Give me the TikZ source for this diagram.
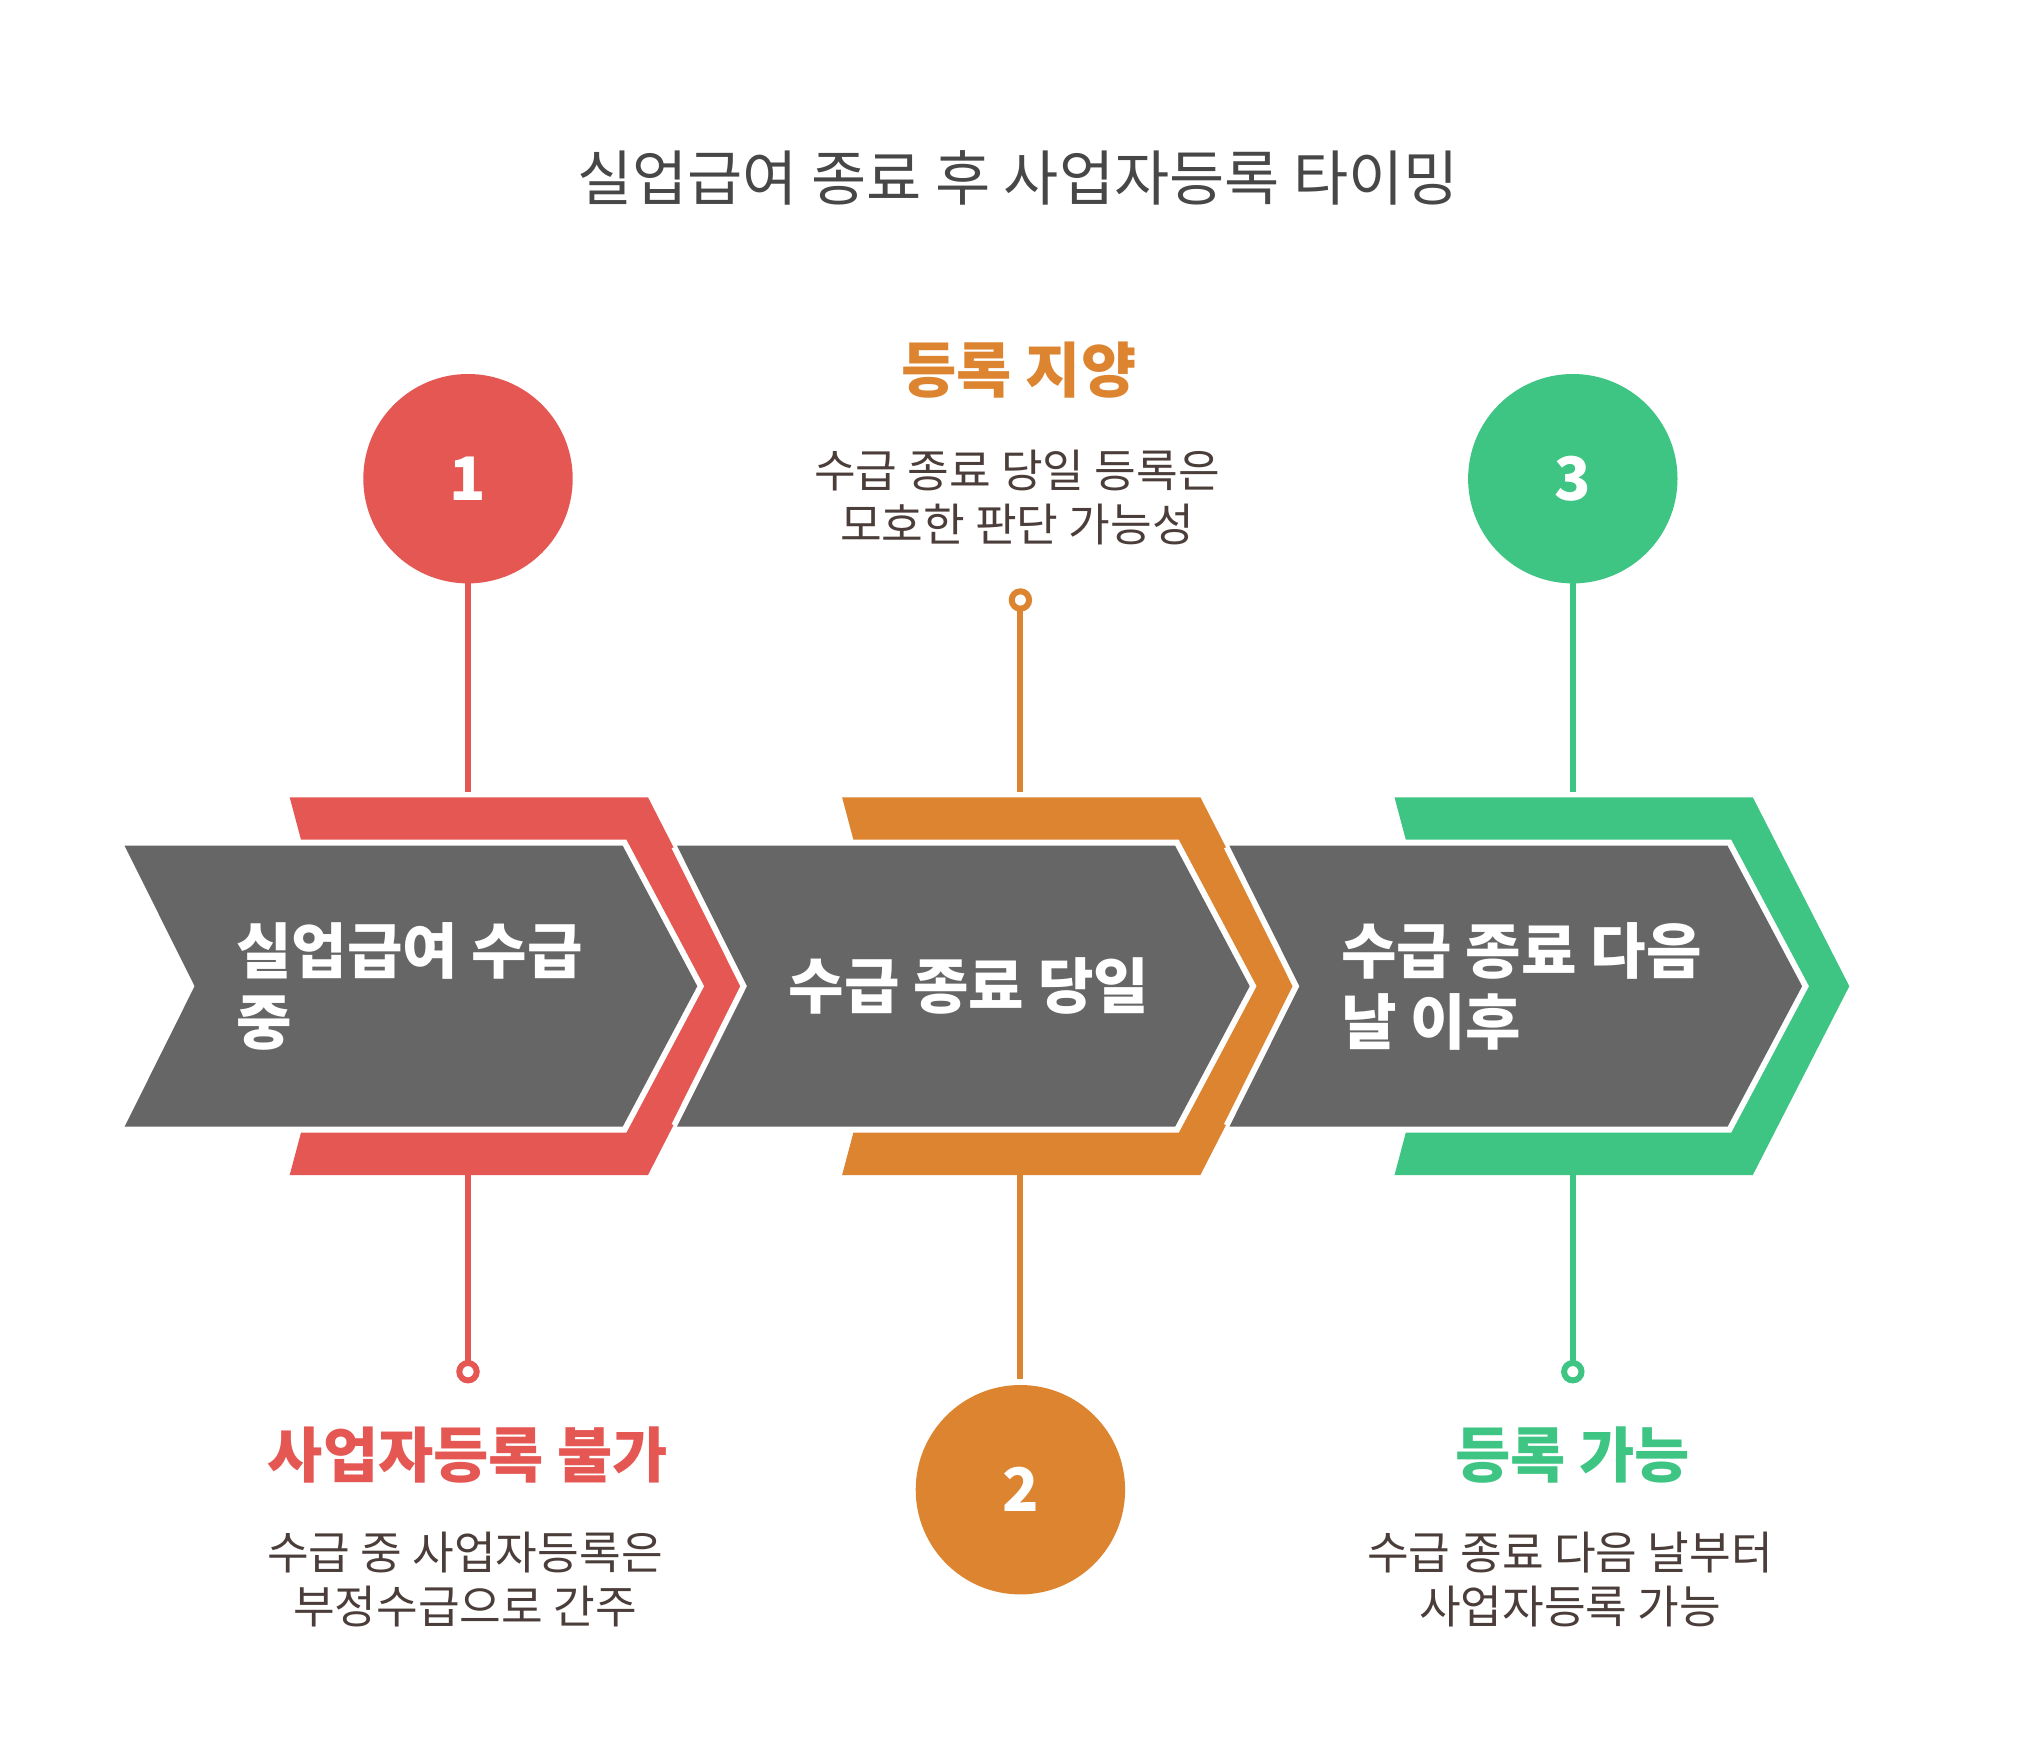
\documentclass[tikz,border=0pt]{standalone}
\usepackage{fontspec}
\setmainfont{Noto Sans CJK KR}
\usepackage{xcolor}
\usepackage{tikz}
\usetikzlibrary{calc,positioning}
\definecolor{tlred}{HTML}{E55753}
\definecolor{tlorange}{HTML}{DD8431}
\definecolor{tlgreen}{HTML}{3EC584}
\definecolor{tlgray}{HTML}{666666}
\definecolor{tltitle}{HTML}{474747}
\definecolor{tldesc}{HTML}{4B3E3A}
\tikzset{
 tl halo/.style={draw=white,line width=12pt,line join=miter},
 tl badge/.style={circle,fill=#1,minimum size=209.4pt,inner sep=0pt,outer sep=0pt,
                  text=white,font=\fontsize{60}{60}\selectfont\bfseries},
 tl dot/.style={circle,draw=#1,fill=white,line width=6pt,minimum size=17.4pt,
                inner sep=0pt,outer sep=0pt},
 tl stem/.style={draw=#1,line width=6pt},
 tl label/.style={text=white,align=left,anchor=west,inner sep=0pt,
                  font=\fontsize{60.3}{71}\selectfont\bfseries},
 tl head/.style={text=#1,inner sep=0pt,font=\fontsize{60}{70}\selectfont\bfseries},
 tl desc/.style={text=tldesc,align=center,inner sep=0pt,font=\fontsize{45.3}{54}\selectfont},
 tl title/.style={text=tltitle,inner sep=0pt,font=\fontsize{60}{70}\selectfont}
}
\begin{document}
\begin{tikzpicture}[x=1pt,y=-1pt]
 \fill[white] (0,0) rectangle (2037,1743);
 \useasboundingbox (0,0) rectangle (2037,1743);
 \node[tl title] (title) at (1018,178) {실업급여 종료 후 사업자등록 타이밍};

 \foreach \dx/\col in {0/tlred,552.4/tlorange,1104.8/tlgreen}
   \fill[\col] ({289.7+\dx},797.3) -- ({648+\dx},797.3) -- ({744.5+\dx},986.2)
     -- ({648+\dx},1175) -- ({289.7+\dx},1175) -- ({340+\dx},986.2) -- cycle;
 \foreach \dx in {0,552.4,1104.8}{
   \draw[tl halo] ({124.6+\dx},845.7) -- ({622.7+\dx},845.7) -- ({697.3+\dx},986.2)
     -- ({622.7+\dx},1126.7) -- ({124.6+\dx},1126.7);
   \draw[tl halo] ({124.6+\dx},845.7) -- ({194.6+\dx},986.2) -- ({124.6+\dx},1126.7);
   \fill[tlgray] ({124.6+\dx},845.7) -- ({622.7+\dx},845.7) -- ({697.3+\dx},986.2)
     -- ({622.7+\dx},1126.7) -- ({124.6+\dx},1126.7) -- ({194.6+\dx},986.2) -- cycle;
 }
 \foreach \k/\dx in {1/0,2/552.4,3/1104.8}{
   \coordinate (s\k-top) at ({468+\dx},797.3);
   \coordinate (s\k-bot) at ({468+\dx},1175);
 }

 \node[tl label] (t1) at (236,986.2) {실업급여 수급\\중};
 \node[tl label] (t2) at (788.4,986.2) {수급 종료 당일};
 \node[tl label] (t3) at (1340.8,986.2) {수급 종료 다음\\날 이후};

 \node[tl badge=tlred] (c1) at (468,478.7) {1};
 \node[tl badge=tlorange] (c2) at (1020.4,1489.7) {2};
 \node[tl badge=tlgreen] (c3) at (1572.8,478.7) {3};
 \node[tl dot=tlred] (d1) at (468,1371.7) {};
 \node[tl dot=tlorange] (d2) at (1020.4,600) {};
 \node[tl dot=tlgreen] (d3) at (1572.8,1371.7) {};

 \draw[tl stem=tlred,shorten >=5.6pt] (c1) -- (s1-top);
 \draw[tl stem=tlred] (s1-bot) -- (d1);
 \draw[tl stem=tlorange,shorten >=5.6pt] (d2) -- (s2-top);
 \draw[tl stem=tlorange,shorten >=6pt] (s2-bot) -- (c2);
 \draw[tl stem=tlgreen,shorten >=5.6pt] (c3) -- (s3-top);
 \draw[tl stem=tlgreen] (s3-bot) -- (d3);

 \node[tl head=tlorange] (h2) at (1019,370) {등록 지양};
 \node[tl desc] (p2) at (1017,498) {수급 종료 당일 등록은\\모호한 판단 가능성};
 \node[tl head=tlred] (h1) at (468,1455) {사업자등록 불가};
 \node[tl desc] (p1) at (465,1580) {수급 중 사업자등록은\\부정수급으로 간주};
 \node[tl head=tlgreen] (h3) at (1572.8,1455) {등록 가능};
 \node[tl desc] (p3) at (1570,1580) {수급 종료 다음 날부터\\사업자등록 가능};
\end{tikzpicture}
\end{document}
